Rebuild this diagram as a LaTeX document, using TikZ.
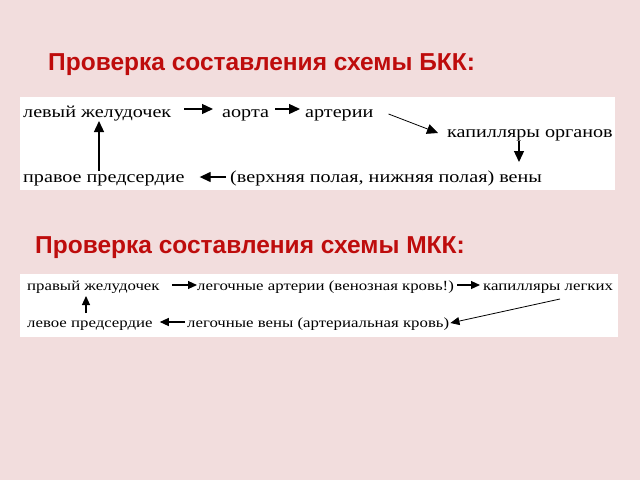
\documentclass[tikz,border=0pt]{standalone}
\usepackage{fontspec}
\setmainfont{Liberation Serif}
\newfontfamily\titlefont{Liberation Sans}
\newfontfamily\diagfont[FakeStretch=1.2]{Liberation Serif}
\usetikzlibrary{arrows.meta,calc}
\definecolor{bgpink}{RGB}{242,221,221}
\definecolor{titlered}{RGB}{190,12,12}
\tikzset{
  title/.style={anchor=base west, inner sep=0pt, text=titlered,
    font=\titlefont\bfseries\fontsize{24.5}{26}\selectfont},
  big/.style={anchor=base west, inner sep=0pt, font=\diagfont\fontsize{16.8}{18}\selectfont},
  small/.style={anchor=base west, inner sep=0pt, font=\diagfont\fontsize{14}{15}\selectfont},
  arrbig/.style={line width=1.3pt, -{Triangle[length=11pt,width=10pt]}},
  arrthin/.style={line width=0.8pt, -{Triangle[length=11pt,width=10pt]}},
  arrsmall/.style={line width=1.1pt, -{Triangle[length=9pt,width=8pt]}},
  arrsmallthin/.style={line width=0.8pt, -{Triangle[length=9pt,width=8pt]}},
}
\begin{document}
\begin{tikzpicture}[x=1pt,y=-1pt]
\useasboundingbox (0,0) rectangle (640,480);
\fill[bgpink] (0,0) rectangle (640,480);
% titles
\node[title] (t1) at (48,70) {Проверка составления схемы БКК:};
\node[title] (t2) at (35,253) {Проверка составления схемы МКК:};
% boxes
\fill[white] (20,97) rectangle (615,190);
\fill[white] (20,274) rectangle (618,337);
% box 1
\node[big] (lv) at (23,117) {левый желудочек};
\node[big] (aorta) at (222,117) {аорта};
\node[big] (arter) at (305,117) {артерии};
\node[big] (kap) at (447,137) {капилляры органов};
\node[big] (pravoe) at (23,182) {правое предсердие};
\node[big] (veny) at (230,182) {(верхняя полая, нижняя полая) вены};
\draw[arrbig] ($(lv.base east)+(13,-8)$) -- ($(aorta.base west)+(-9,-8)$);
\draw[arrbig] ($(aorta.base east)+(6,-8)$) -- ($(arter.base west)+(-5,-8)$);
\draw[arrthin] ($(arter.base east)+(15,-3)$) -- ($(kap.base west)+(-9,-4)$);
\draw[arrbig] ($(kap.base west)+(72,4)$) coordinate (k1) -- ($(k1 |- veny.base)+(0,-20)$);
\draw[arrbig] ($(veny.base west)+(-4,-5)$) -- ($(pravoe.base east)+(15,-5)$);
\draw[arrbig] ($(pravoe.base west)+(76,-11)$) -- ($(lv.base west)+(76,4)$);
% box 2
\node[small] (pj) at (27,290) {правый желудочек};
\node[small] (la) at (197,290) {легочные артерии (венозная кровь!)};
\node[small] (kl) at (483,290) {капилляры легких};
\node[small] (lp) at (27,327) {левое предсердие};
\node[small] (lv2) at (187,327) {легочные вены (артериальная кровь)};
\draw[arrsmall] ($(pj.base east)+(12,-5)$) coordinate (p1) -- (la.base west |- p1);
\draw[arrsmall] ($(la.base east)+(3,-5)$) -- ($(kl.base west)+(-3,-5)$);
\draw[arrsmallthin] ($(kl.base west)+(77,9)$) -- ($(lv2.base east)+(1,-4)$);
\draw[arrsmall] ($(lv2.base west)+(-2,-5)$) -- ($(lp.base east)+(7,-5)$);
\draw[arrsmall] ($(lp.base west)+(59,-14)$) -- ($(pj.base west)+(59,6)$);
\end{tikzpicture}
\end{document}
